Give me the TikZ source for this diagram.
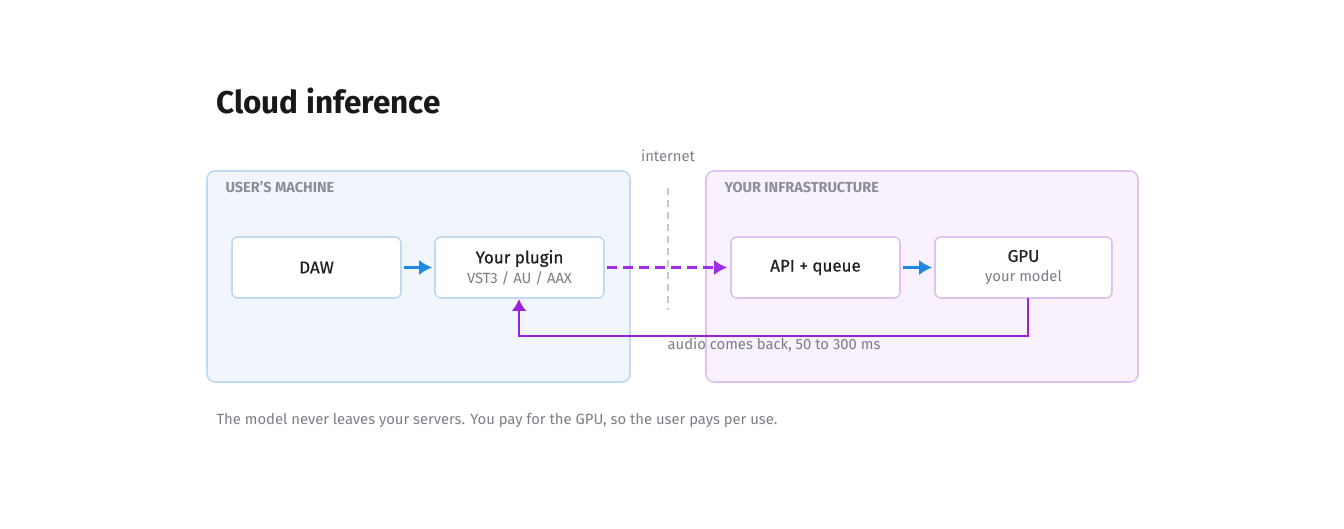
\documentclass[tikz,border=0pt]{standalone}
\usepackage{fontspec}
\setmainfont{Fira Sans}
\newfontfamily\mediumfont[FakeBold=0.6]{Fira Sans}
\usetikzlibrary{positioning, arrows.meta}
\definecolor{userfill}{HTML}{F1F6FC}
\definecolor{userline}{HTML}{BFDAF2}
\definecolor{infrafill}{HTML}{F9F1FD}
\definecolor{infraline}{HTML}{DEC3F2}
\definecolor{labelgray}{HTML}{8A8F98}
\definecolor{subgray}{HTML}{7A7F87}
\definecolor{flowblue}{HTML}{1E88E5}
\definecolor{netpurple}{HTML}{A12BEA}
\definecolor{backpurple}{HTML}{9A22D8}
\begin{document}
\begin{tikzpicture}[x=1pt, y=-1pt,
  group/.style={rounded corners=8pt, line width=1.6pt},
  stage/.style={rectangle, draw, fill=white, rounded corners=6pt, line width=1.6pt,
    minimum width=169pt, minimum height=61pt, align=center, inner sep=0pt,
    font=\mediumfont\fontsize{17}{20}\selectfont, text=black!88},
  grouplabel/.style={anchor=west, text=labelgray, font=\bfseries\fontsize{14.5}{16}\selectfont},
  sub/.style={font=\fontsize{14.8}{17}\selectfont, text=subgray},
  flow/.style={-{Latex[length=13pt, width=15pt]}, line width=3pt, shorten <=2pt, shorten >=2pt}]
\useasboundingbox (0,0) rectangle (1344,529);
% title
\node[anchor=west, font=\bfseries\fontsize{31.5}{36}\selectfont, text=black!90] (title) at (213,101) {Cloud inference};
% the two sides
\draw[group, draw=userline, fill=userfill] (207,171) rectangle (630,382);
\draw[group, draw=infraline, fill=infrafill] (706,171) rectangle (1138,382);
\node[grouplabel] (user) at (222,187) {USER'S MACHINE};
\node[grouplabel] (infra) at (721,187) {YOUR INFRASTRUCTURE};
% internet border
\node[sub] (internet) at (668,156) {internet};
\coordinate (nettop) at (668,188);
\coordinate (netbottom) at (668,310);
\draw[black!22, line width=1.6pt, dash pattern=on 7pt off 5pt] (nettop) -- (netbottom);
% stages
\node[stage, draw=userline] (daw) at (316.5,267.5) {DAW};
\node[stage, draw=userline] (plugin) at (519.5,267.5) {Your plugin\\{\normalfont\fontsize{14.8}{17}\selectfont\color{subgray}VST3 / AU / AAX}};
\node[stage, draw=infraline] (api) at (815.5,267.5) {API + queue};
\node[stage, draw=infraline, minimum width=177pt] (gpu) at (1023.5,267.5) {GPU\\{\normalfont\fontsize{14.8}{17}\selectfont\color{subgray}your model}};
% flows
\draw[flow, flowblue] (daw) -- (plugin);
\draw[flow, flowblue] (api) -- (gpu);
\draw[flow, netpurple, dash pattern=on 10pt off 6pt, shorten >=3pt] (plugin) -- (api);
\coordinate (gpuout) at (1028,298);
\coordinate (plugin in) at (519,299);
\draw[-{Latex[length=12pt, width=15pt]}, backpurple, line width=2.6pt] (gpuout) -- (1028,336) -- (519,336) -- (plugin in);
\node[sub] (back) at (774,345) {audio comes back, 50 to 300 ms};
% footer
\node[sub, anchor=west] (note) at (213,421) {The model never leaves your servers. You pay for the GPU, so the user pays per use.};
\end{tikzpicture}
\end{document}
